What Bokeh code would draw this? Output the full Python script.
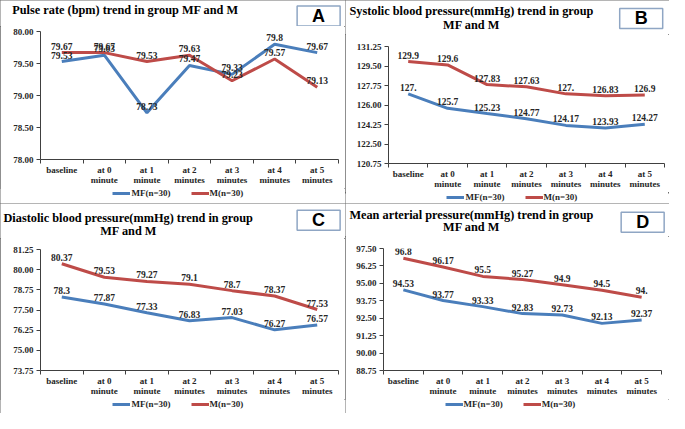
import numpy as np
from bokeh.plotting import figure
from bokeh.models import FixedTicker, NumeralTickFormatter, Label, Legend, LegendItem, Range1d
from bokeh.layouts import row, column
from bokeh.embed import file_html
from bokeh.resources import INLINE
from bokeh.core.properties import value

# ---------------- data ----------------
categories = ["baseline", "at 0 minute", "at 1 minute", "at 2 minutes",
              "at 3 minutes", "at 4 minutes", "at 5 minutes"]
tick_labels = ["baseline", "at 0\nminute", "at 1\nminute", "at 2\nminutes",
               "at 3\nminutes", "at 4\nminutes", "at 5\nminutes"]
series_names = ["MF(n=30)", "M(n=30)"]

pulse_mf = [79.53, 79.63, 78.73, 79.47, 79.33, 79.80, 79.67]
pulse_m = [79.67, 79.67, 79.53, 79.63, 79.23, 79.57, 79.13]
pulse_ticks = [78.00, 78.50, 79.00, 79.50, 80.00]

sbp_mf = [127.00, 125.70, 125.23, 124.77, 124.17, 123.93, 124.27]
sbp_m = [129.90, 129.60, 127.83, 127.63, 127.00, 126.83, 126.90]
sbp_ticks = [120.75, 122.50, 124.25, 126.00, 127.75, 129.50, 131.25]

dbp_mf = [78.30, 77.87, 77.33, 76.83, 77.03, 76.27, 76.57]
dbp_m = [80.37, 79.53, 79.27, 79.10, 78.70, 78.37, 77.53]
dbp_ticks = [73.75, 75.00, 76.25, 77.50, 78.75, 80.00, 81.25]

map_mf = [94.53, 93.77, 93.33, 92.83, 92.73, 92.13, 92.37]
map_m = [96.80, 96.17, 95.50, 95.27, 94.90, 94.50, 94.00]
map_ticks = [88.75, 90.00, 91.25, 92.50, 93.75, 95.00, 96.25, 97.50]

titles = [["Pulse rate (bpm) trend in group MF and M"],
          ["Systolic blood pressure(mmHg) trend in group", "MF and M"],
          ["Diastolic blood pressure(mmHg) trend in group", "MF and M"],
          ["Mean arterial pressure(mmHg) trend in group", "MF and M"]]
letters = ["A", "B", "C", "D"]

# ---------------- style ----------------
BLUE = "#4A7EBB"
RED = "#BE4B48"
SERIF = "Liberation Serif"
SANS = "Liberation Sans"
TXT = "#262626"
AX = "#404040"


def excel_label(v):
    # Excel "0.##" number format
    return f"{v:.2f}".rstrip("0")


def blank_fig(w, h):
    f = figure(width=w, height=h, output_backend="svg", toolbar_location=None,
               x_range=Range1d(0, w), y_range=Range1d(0, h),
               x_axis_type=None, y_axis_type=None, min_border=0)
    f.grid.visible = False
    f.outline_line_color = None
    f.border_fill_color = "white"
    f.background_fill_color = "white"
    return f


def make_panel(title_lines, letter, mf, m, yticks, out_w, out_h, ref_w, ref_h,
               frame, head_h, foot_top, title_pos, box_center, legend_pos):
    sx = out_w / ref_w
    sy = out_h / ref_h
    L, R, T, B = frame
    fl, fr, ft, fb = round(L * sx), round(R * sx), round(T * sy), round(B * sy)
    n = len(categories)

    # ---------- header (titles + letter box) ----------
    h = blank_fig(out_w, head_h)
    for (tx, ty, align), line in zip(title_pos, title_lines):
        h.add_layout(Label(text=line, x=tx * sx, y=head_h - ty * sy,
                           x_units="screen", y_units="screen", text_align=align,
                           text_baseline="middle", text_font=SERIF,
                           text_font_style="bold", text_font_size="12.3px",
                           text_color="black"))
    bx, by = box_center
    h.add_layout(Label(text=letter, x=bx * sx, y=head_h - by * sy,
                       x_units="screen", y_units="screen", text_align="center",
                       text_baseline="middle", text_font=SANS,
                       text_font_style="bold", text_font_size="18px",
                       text_color="black", background_fill_color="white",
                       border_line_color="#8FA6C4", border_line_width=1.5,
                       padding=dict(top=0, right=15, bottom=0, left=15)))

    # ---------- chart ----------
    ch = foot_top - head_h
    p = figure(width=out_w, height=ch, output_backend="svg", toolbar_location=None,
               x_range=Range1d(0, n), y_range=Range1d(yticks[0], yticks[-1]),
               min_border_left=fl, min_border_right=out_w - fr,
               min_border_top=ft - head_h, min_border_bottom=foot_top - fb)
    p.grid.visible = False
    p.outline_line_color = None
    p.background_fill_color = "white"
    p.border_fill_color = "white"

    xs = np.arange(n) + 0.5

    xa = p.xaxis[0]
    xa.ticker = FixedTicker(ticks=list(xs), minor_ticks=list(range(n + 1)))
    xa.major_label_overrides = {float(x): lbl for x, lbl in zip(xs, tick_labels)}
    xa.major_tick_out = 0
    xa.major_tick_in = 0
    xa.minor_tick_out = 4
    xa.minor_tick_in = 0
    xa.major_label_standoff = 1
    xa.axis_label_standoff = 0
    xa.major_label_text_line_height = 1.05
    ya = p.yaxis[0]
    ya.ticker = FixedTicker(ticks=yticks, minor_ticks=[])
    ya.formatter = NumeralTickFormatter(format="0.00")
    ya.major_tick_out = 4
    ya.major_tick_in = 0
    ya.minor_tick_out = 0
    ya.minor_tick_in = 0
    ya.major_label_standoff = 3
    for ax in (xa, ya):
        ax.axis_line_color = AX
        ax.major_tick_line_color = AX
        ax.minor_tick_line_color = AX
        ax.major_label_text_font = SERIF
        ax.major_label_text_font_style = "bold"
        ax.major_label_text_font_size = "9px"
        ax.major_label_text_color = TXT

    p.line(xs, mf, line_color=BLUE, line_width=3)
    p.line(xs, m, line_color=RED, line_width=3)

    for vals in (mf, m):
        p.text(xs, vals, text=[excel_label(v) for v in vals], text_align="center",
               text_baseline="bottom", y_offset=-3, text_font=value(SERIF),
               text_font_style="bold", text_font_size="9.5px", text_color=TXT)

    # ---------- footer (legend) ----------
    fh = out_h - foot_top
    f = blank_fig(out_w, fh)
    # legend swatches only: one NaN point each, nothing visible is drawn
    k_mf = f.line(x=[np.nan], y=[np.nan], line_color=BLUE, line_width=3)
    k_m = f.line(x=[np.nan], y=[np.nan], line_color=RED, line_width=3)
    lx, ly = legend_pos
    leg_h = 10
    ly_bottom = fh - (ly * sy - foot_top) - leg_h / 2
    ly_bottom = min(max(0, ly_bottom), fh - leg_h)
    legend = Legend(items=[LegendItem(label=series_names[0], renderers=[k_mf]),
                           LegendItem(label=series_names[1], renderers=[k_m])],
                    location=(lx * sx, ly_bottom),
                    orientation="horizontal", glyph_width=18, glyph_height=leg_h,
                    label_height=leg_h, label_width=10, label_standoff=1, spacing=20,
                    padding=0, margin=0, border_line_color=None,
                    background_fill_alpha=0, label_text_font=SERIF,
                    label_text_font_style="bold", label_text_font_size="9px",
                    label_text_color=TXT)
    f.add_layout(legend)

    panel = column(column(h), column(p), column(f),
                   styles={"outline": "1px solid #6a6a6a", "outline-offset": "-1px"})
    return panel


pA = make_panel(titles[0], letters[0], pulse_mf, pulse_m, pulse_ticks,
                345, 203, 353, 210, (41, 345.5, 32, 167), 26, 188,
                [(12, 10, "left")], (325.5, 16), (115, 200))
pB = make_panel(titles[1], letters[1], sbp_mf, sbp_m, sbp_ticks,
                324, 203, 332, 210, (44, 327, 48, 173), 34, 192,
                [(4, 11, "left"), (129, 25, "center")], (303, 18.5), (104, 203))
pC = make_panel(titles[2], letters[2], dbp_mf, dbp_m, dbp_ticks,
                345, 210, 353, 219, (41, 345.5, 48, 177), 35, 196,
                [(3, 15, "left"), (131, 29, "center")], (325.5, 17.5), (115, 210))
pD = make_panel(titles[3], letters[3], map_mf, map_m, map_ticks,
                324, 210, 332, 219, (39, 323.7, 47, 177), 33, 196,
                [(4, 12, "left"), (129, 25, "center")], (304.5, 19.5), (102, 210))

layout = column(row(pA, pB), row(pC, pD))
open("out.html", "w").write(file_html(layout, INLINE))
